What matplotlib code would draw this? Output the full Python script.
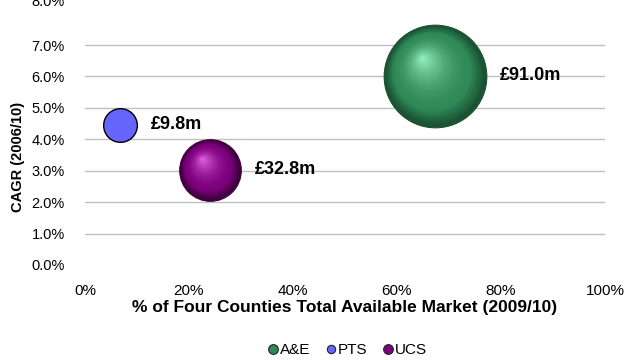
import matplotlib
matplotlib.use('Agg')
import matplotlib.pyplot as plt
import matplotlib.transforms as mtransforms
from matplotlib.lines import Line2D
import numpy as np
from matplotlib.colors import to_rgb

plt.rcParams['font.family'] = ['Liberation Sans', 'DejaVu Sans']

# data
services = ['A&E', 'PTS', 'UCS']
market_share = [67.3, 6.7, 24.0]     # % of four counties TAM
cagr = [6.02, 4.46, 3.03]            # %
market_value = [91.0, 9.8, 32.8]     # £m
value_labels = ['£91.0m', '£9.8m', '£32.8m']

# colours: dark edge, base, highlight
styles = {
    'A&E': ('#1b5233', '#2f8a58', '#9af5c4'),
    'PTS': ('#000000', '#6666ff', '#6666ff'),
    'UCS': ('#3e003e', '#7d007d', '#e868e8'),
}
shaded = {'A&E': True, 'PTS': False, 'UCS': True}

fig = plt.figure(figsize=(6.32, 3.6), dpi=100)
ax = fig.add_axes([85 / 632, 95 / 360, 520 / 632, 251.4 / 360])

size_k = 60.0


def mix(c1, c2, t):
    a, b = np.array(to_rgb(c1)), np.array(to_rgb(c2))
    return tuple(a + (b - a) * t)


for name, x, y, v, lab in zip(services, market_share, cagr, market_value, value_labels):
    dark, base, light = styles[name]
    s = v * size_k
    r = np.sqrt(s) / 2  # radius in points
    if shaded[name]:
        ax.scatter([x], [y], s=s, color=dark, edgecolor=dark, linewidth=0.8, zorder=3)
        n = 40
        hx, hy = -0.26 * r, 0.36 * r
        for k in range(1, n):
            t = k / n
            rk = r * (1 - t) * 0.97
            f = 1 - rk / r
            tr = mtransforms.offset_copy(ax.transData, fig=fig, x=hx * f, y=hy * f, units='points')
            if t < 0.22:
                col = mix(dark, base, t / 0.22)
            else:
                col = mix(base, light, ((t - 0.22) / 0.78) ** 1.8)
            ax.scatter([x], [y], s=(2 * rk) ** 2, color=col, linewidth=0,
                       transform=tr, zorder=3 + k * 0.01)
    else:
        ax.scatter([x], [y], s=s, color=base, edgecolor='black', linewidth=1.0, zorder=3)
    ax.annotate(lab, (x, y), xytext=(r + 10, 0), textcoords='offset points',
                ha='left', va='center', fontsize=13, fontweight='bold', zorder=5)

ax.set_xlim(0, 100)
ax.set_ylim(0, 8)
ax.set_xticks(np.arange(0, 101, 20))
ax.set_xticklabels([f'{t}%' for t in range(0, 101, 20)])
ax.set_yticks(np.arange(0, 8, 1))
ax.set_yticklabels([f'{t:.1f}%' for t in range(0, 8)])
ax.text(-0.04, 8.38, '8.0%', transform=mtransforms.blended_transform_factory(ax.transAxes, ax.transData),
        ha='right', va='center', fontsize=10.5, clip_on=False)

ax.grid(axis='y', color='#c0c0c0', linewidth=1)
ax.set_axisbelow(True)
for sp in ax.spines.values():
    sp.set_visible(False)
ax.tick_params(length=0, labelsize=10.5)
ax.tick_params(axis='x', pad=14, labelsize=11)
ax.tick_params(axis='y', pad=14.5)
# hide grid line at 0
ax.get_ygridlines()[0].set_visible(False)

ax.set_xlabel('% of Four Counties Total Available Market (2009/10)', fontsize=12.5, fontweight='bold')
ax.xaxis.set_label_coords(0.5, -0.171)
ax.xaxis.label.set_va('center')
ax.set_ylabel('CAGR (2006/10)', fontsize=10.5, fontweight='bold')
ax.yaxis.set_label_coords(-0.129, 0.43)
ax.yaxis.label.set_va('center')

handles = [Line2D([0], [0], marker='o', linestyle='', markersize=m,
                  markerfacecolor=styles[n][1], markeredgecolor='#222222', markeredgewidth=0.8, label=n)
           for n, m in zip(services, [7, 6, 7])]
fig.legend(handles=handles, loc='center', bbox_to_anchor=(0.548, 0.028), ncol=3, frameon=False,
           fontsize=11, handletextpad=0.0, columnspacing=0.9, handlelength=0.9, borderpad=0)

fig.savefig('out.png', dpi=100)
